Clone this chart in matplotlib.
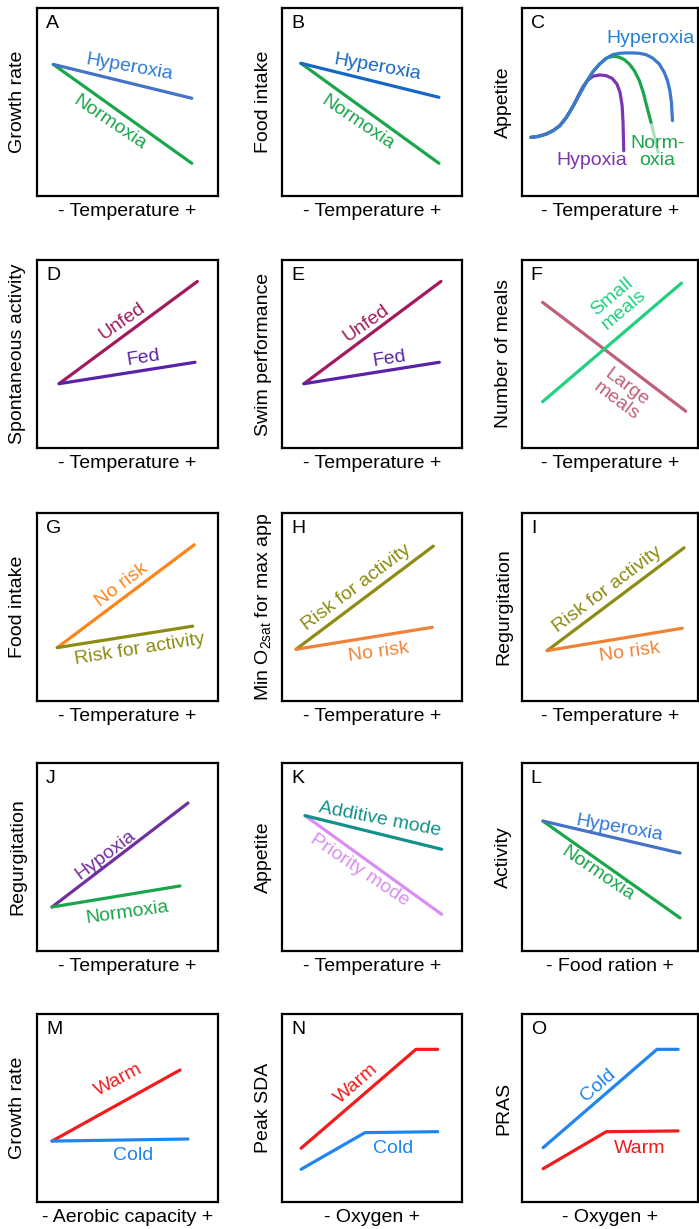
import matplotlib
matplotlib.use("Agg")
import matplotlib.pyplot as plt

plt.rcParams['font.family'] = ['Liberation Sans', 'DejaVu Sans']
plt.rcParams['font.size'] = 14
plt.rcParams['lines.solid_capstyle'] = 'round'
plt.rcParams['lines.solid_joinstyle'] = 'round'

# ---- data (axes run 0..1) ----
# A: growth rate vs temperature
a_x = [0.09, 0.855]
a_hyperoxia = [0.70, 0.52]
a_normoxia = [0.70, 0.174]

# B: food intake vs temperature
b_x = [0.105, 0.872]
b_hyperoxia = [0.706, 0.525]
b_normoxia = [0.706, 0.174]

# C: appetite curves
c_hyper_x = [0.051, 0.092, 0.139, 0.177, 0.215, 0.252, 0.29, 0.328, 0.365, 0.403, 0.441, 0.478,
             0.516, 0.554, 0.591, 0.629, 0.667, 0.704, 0.742, 0.78, 0.808, 0.827, 0.84, 0.849, 0.855]
c_hyper_y = [0.312, 0.317, 0.33, 0.348, 0.374, 0.418, 0.477, 0.543, 0.605, 0.661, 0.702, 0.732,
             0.752, 0.759, 0.761, 0.761, 0.759, 0.752, 0.734, 0.702, 0.658, 0.613, 0.56, 0.498, 0.401]
c_norm_x = [0.051, 0.092, 0.139, 0.177, 0.215, 0.252, 0.29, 0.328, 0.365, 0.403, 0.441, 0.478,
            0.497, 0.525, 0.554, 0.582, 0.61, 0.638, 0.667, 0.689, 0.708, 0.723, 0.733]
c_norm_y = [0.312, 0.317, 0.33, 0.348, 0.374, 0.418, 0.477, 0.543, 0.605, 0.661, 0.702, 0.732,
            0.739, 0.743, 0.738, 0.725, 0.702, 0.667, 0.613, 0.551, 0.48, 0.427, 0.392]
c_norm_tail_x = [0.733, 0.774]
c_norm_tail_y = [0.392, 0.232]
c_hypo_x = [0.051, 0.092, 0.139, 0.177, 0.215, 0.252, 0.29, 0.318, 0.347, 0.375, 0.403, 0.441,
            0.478, 0.512, 0.539, 0.557, 0.569, 0.574, 0.578]
c_hypo_y = [0.312, 0.317, 0.33, 0.348, 0.374, 0.418, 0.477, 0.53, 0.583, 0.617, 0.637, 0.644,
            0.64, 0.626, 0.596, 0.551, 0.48, 0.392, 0.241]

# D: spontaneous activity
d_unfed_x = [0.122, 0.886]
d_unfed = [0.342, 0.886]
d_fed_x = [0.122, 0.873]
d_fed = [0.342, 0.456]

# E: swim performance
e_unfed_x = [0.122, 0.883]
e_unfed = [0.342, 0.886]
e_fed_x = [0.122, 0.874]
e_fed = [0.342, 0.456]

# F: number of meals
f_small_x = [0.117, 0.906]
f_small = [0.246, 0.877]
f_large_x = [0.117, 0.930]
f_large = [0.775, 0.196]

# G: food intake
g_norisk_x = [0.112, 0.869]
g_norisk = [0.284, 0.831]
g_risk_x = [0.112, 0.860]
g_risk = [0.284, 0.398]

# H: min O2sat for max appetite
h_risk_x = [0.078, 0.841]
h_risk = [0.275, 0.824]
h_norisk_x = [0.078, 0.835]
h_norisk = [0.275, 0.392]

# I: regurgitation
i_risk_x = [0.143, 0.921]
i_risk = [0.268, 0.815]
i_norisk_x = [0.143, 0.911]
i_norisk = [0.268, 0.387]

# J: regurgitation
j_hypoxia_x = [0.083, 0.834]
j_hypoxia = [0.234, 0.787]
j_normoxia_x = [0.083, 0.79]
j_normoxia = [0.234, 0.346]

# K: appetite, modes
k_x = [0.128, 0.887]
k_additive = [0.72, 0.541]
k_priority = [0.72, 0.195]

# L: activity vs food ration
l_x = [0.119, 0.898]
l_hyperoxia = [0.691, 0.521]
l_normoxia = [0.691, 0.176]

# M: growth rate vs aerobic capacity
m_warm_x = [0.083, 0.79]
m_warm = [0.324, 0.702]
m_cold_x = [0.083, 0.834]
m_cold = [0.324, 0.335]

# N: peak SDA vs oxygen
n_warm_x = [0.106, 0.744, 0.865]
n_warm = [0.286, 0.812, 0.812]
n_cold_x = [0.106, 0.461, 0.865]
n_cold = [0.174, 0.369, 0.374]

# O: PRAS vs oxygen
o_cold_x = [0.12, 0.767, 0.887]
o_cold = [0.289, 0.812, 0.812]
o_warm_x = [0.12, 0.479, 0.887]
o_warm = [0.177, 0.374, 0.378]

letters = list("ABCDEFGHIJKLMNO")
ylabels = ["Growth rate", "Food intake", "Appetite",
           "Spontaneous activity", "Swim performance", "Number of meals",
           "Food intake", "Min O$_\\mathregular{2sat}$ for max app", "Regurgitation",
           "Regurgitation", "Appetite", "Activity",
           "Growth rate", "Peak SDA", "PRAS"]
xlabels = ["- Temperature +"] * 11 + ["- Food ration +", "- Aerobic capacity +",
                                      "- Oxygen +", "- Oxygen +"]

# colours
BLUE_A = '#4672c8'
BLUE_B = '#1667c4'
BLUE_C = '#3d78cf'
GREEN = '#1aa64a'
PURPLE = '#7b35b5'
UNFED = '#a21a5c'
FED = '#5a22a8'
SMALL = '#20d080'
LARGE = '#c06078'
ORANGE = '#ff8418'
ORANGE2 = '#f08238'
OLIVE = '#8c8c12'
TEAL = '#12918b'
LILAC = '#d98ff2'
RED = '#f21c1c'
SKY = '#1f85f0'

LW = 2.3

fig = plt.figure(figsize=(6.99, 12.29), dpi=100)
W, H = 699.0, 1229.0
col_x = [(37, 181), (282, 180), (522, 176)]
row_y = [8, 260, 513, 763, 1014]
box_h = 188

axes = []
for r in range(5):
    for c in range(3):
        x0, w = col_x[c]
        ax = fig.add_axes([x0 / W, 1 - (row_y[r] + box_h) / H, w / W, box_h / H])
        ax.set_xlim(0, 1)
        ax.set_ylim(0, 1)
        ax.set_xticks([])
        ax.set_yticks([])
        for s in ax.spines.values():
            s.set_linewidth(1.6)
        axes.append(ax)

for k, ax in enumerate(axes):
    ax.text(0.05, 0.965, letters[k], ha='left', va='top', transform=ax.transAxes)
    ax.text(-0.105, 0.5, ylabels[k], rotation=90, ha='center', va='center',
            transform=ax.transAxes)
    ax.text(0.5, -0.08, xlabels[k], ha='center', va='center', transform=ax.transAxes)


def lab(ax, x, y, s, color, rot, **kw):
    ax.text(x, y, s, color=color, rotation=rot, ha='center', va='center',
            rotation_mode='anchor', **kw)


# A
ax = axes[0]
ax.plot(a_x, a_normoxia, color=GREEN, lw=LW)
ax.plot(a_x, a_hyperoxia, color=BLUE_A, lw=LW)
lab(ax, 0.51, 0.685, "Hyperoxia", '#2f7ad6', -10)
lab(ax, 0.40, 0.39, "Normoxia", GREEN, -34)

# B
ax = axes[1]
ax.plot(b_x, b_normoxia, color=GREEN, lw=LW)
ax.plot(b_x, b_hyperoxia, color=BLUE_B, lw=LW)
lab(ax, 0.53, 0.685, "Hyperoxia", BLUE_B, -10)
lab(ax, 0.42, 0.39, "Normoxia", GREEN, -34)

# C
ax = axes[2]
ax.plot(c_hypo_x, c_hypo_y, color=PURPLE, lw=LW)
ax.plot(c_norm_x, c_norm_y, color=GREEN, lw=LW)
ax.plot(c_norm_tail_x, c_norm_tail_y, color=GREEN, lw=LW, alpha=0.35)
ax.plot(c_hyper_x, c_hyper_y, color=BLUE_C, lw=LW)
lab(ax, 0.73, 0.84, "Hyperoxia", '#2680d8', 0)
lab(ax, 0.77, 0.235, "Norm-\noxia", GREEN, 0, linespacing=1.0)
lab(ax, 0.394, 0.19, "Hypoxia", PURPLE, 0)

# D
ax = axes[3]
ax.plot(d_unfed_x, d_unfed, color=UNFED, lw=LW)
ax.plot(d_fed_x, d_fed, color=FED, lw=LW)
lab(ax, 0.473, 0.675, "Unfed", UNFED, 35)
lab(ax, 0.59, 0.48, "Fed", FED, 9)

# E
ax = axes[4]
ax.plot(e_unfed_x, e_unfed, color=UNFED, lw=LW)
ax.plot(e_fed_x, e_fed, color=FED, lw=LW)
lab(ax, 0.47, 0.665, "Unfed", UNFED, 35)
lab(ax, 0.594, 0.475, "Fed", FED, 9)

# F
ax = axes[5]
ax.plot(f_large_x, f_large, color=LARGE, lw=LW)
ax.plot(f_small_x, f_small, color=SMALL, lw=LW)
lab(ax, 0.545, 0.77, "Small\nmeals", SMALL, 40, linespacing=1.0)
lab(ax, 0.563, 0.285, "Large\nmeals", LARGE, -37, linespacing=1.0)

# G
ax = axes[6]
ax.plot(g_norisk_x, g_norisk, color=ORANGE, lw=LW)
ax.plot(g_risk_x, g_risk, color=OLIVE, lw=LW)
lab(ax, 0.468, 0.615, "No risk", ORANGE, 37)
lab(ax, 0.57, 0.275, "Risk for activity", OLIVE, 9)

# H
ax = axes[7]
ax.plot(h_risk_x, h_risk, color=OLIVE, lw=LW)
ax.plot(h_norisk_x, h_norisk, color=ORANGE2, lw=LW)
lab(ax, 0.415, 0.605, "Risk for activity", OLIVE, 37)
lab(ax, 0.535, 0.26, "No risk", ORANGE2, 8)

# I
ax = axes[8]
ax.plot(i_risk_x, i_risk, color=OLIVE, lw=LW)
ax.plot(i_norisk_x, i_norisk, color=ORANGE2, lw=LW)
lab(ax, 0.488, 0.595, "Risk for activity", OLIVE, 37)
lab(ax, 0.614, 0.258, "No risk", ORANGE2, 8)

# J
ax = axes[9]
ax.plot(j_hypoxia_x, j_hypoxia, color='#7030a0', lw=LW)
ax.plot(j_normoxia_x, j_normoxia, color=GREEN, lw=LW)
lab(ax, 0.376, 0.51, "Hypoxia", '#7030a0', 37)
lab(ax, 0.50, 0.205, "Normoxia", GREEN, 8)

# K
ax = axes[10]
ax.plot(k_x, k_priority, color=LILAC, lw=LW)
ax.plot(k_x, k_additive, color=TEAL, lw=LW)
lab(ax, 0.544, 0.70, "Additive mode", TEAL, -11)
lab(ax, 0.433, 0.43, "Priority mode", LILAC, -34)

# L
ax = axes[11]
ax.plot(l_x, l_normoxia, color=GREEN, lw=LW)
ax.plot(l_x, l_hyperoxia, color=BLUE_A, lw=LW)
lab(ax, 0.554, 0.655, "Hyperoxia", '#2f7ad6', -10)
lab(ax, 0.429, 0.41, "Normoxia", GREEN, -34)

# M
ax = axes[12]
ax.plot(m_warm_x, m_warm, color=RED, lw=LW)
ax.plot(m_cold_x, m_cold, color=SKY, lw=LW)
lab(ax, 0.448, 0.65, "Warm", RED, 28)
lab(ax, 0.53, 0.245, "Cold", SKY, 0)

# N
ax = axes[13]
ax.plot(n_warm_x, n_warm, color=RED, lw=LW)
ax.plot(n_cold_x, n_cold, color=SKY, lw=LW)
lab(ax, 0.415, 0.628, "Warm", RED, 41)
lab(ax, 0.618, 0.286, "Cold", SKY, 0)

# O
ax = axes[14]
ax.plot(o_cold_x, o_cold, color=SKY, lw=LW)
ax.plot(o_warm_x, o_warm, color=RED, lw=LW)
lab(ax, 0.431, 0.622, "Cold", SKY, 41)
lab(ax, 0.667, 0.286, "Warm", RED, 0)

fig.savefig("out.png", dpi=100)
